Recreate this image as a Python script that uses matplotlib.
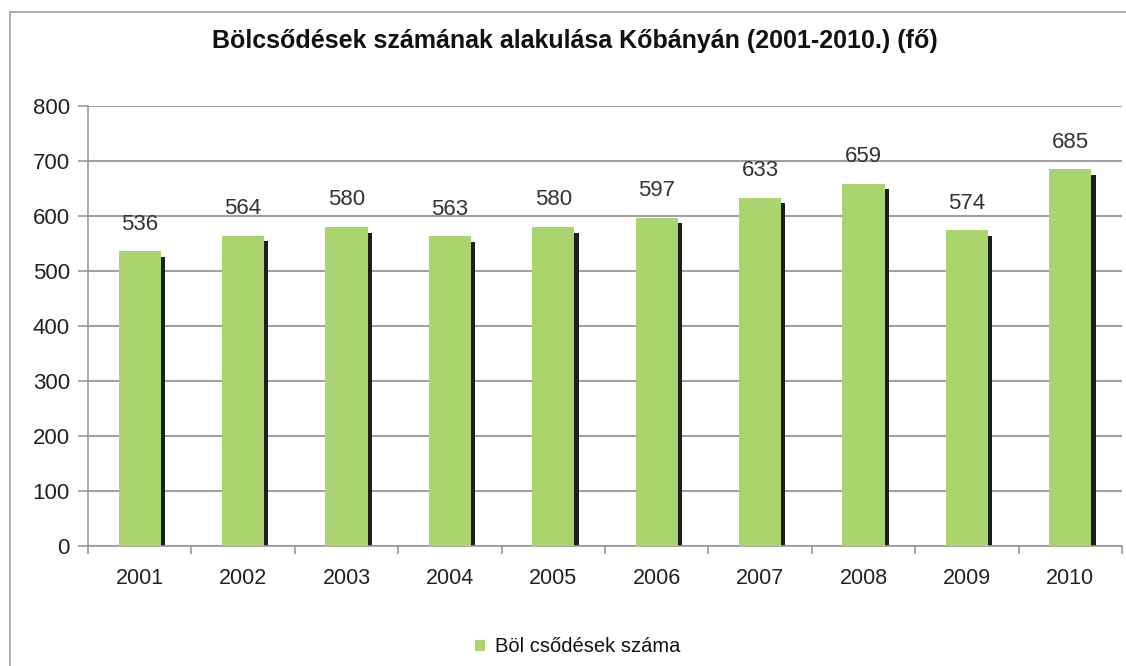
import matplotlib.pyplot as plt
import matplotlib.patches as mpatches
import numpy as np

# adatok
evek = ['2001', '2002', '2003', '2004', '2005', '2006', '2007', '2008', '2009', '2010']
bolcsodesek = [536, 564, 580, 563, 580, 597, 633, 659, 574, 685]

cim = 'Bölcsődések számának alakulása Kőbányán (2001-2010.) (fő)'
jelmagyarazat = 'Böl csődések száma'

plt.rcParams['font.family'] = ['Liberation Sans', 'DejaVu Sans']

fig = plt.figure(figsize=(11.26, 6.66), dpi=100)
ax = fig.add_axes([88/1126, 1 - 546/666, (1122 - 88)/1126, (546 - 106)/666])

x = np.arange(len(evek))
szel = 0.41

# arnyek a jobb oldalon
arnyek = [v - 10 for v in bolcsodesek]
ax.bar(x + szel/2 + 0.02, arnyek, width=0.04, color='#1e1e1e', zorder=2)
oszlopok = ax.bar(x, bolcsodesek, width=szel, color='#a9d46e', zorder=3,
                  label=jelmagyarazat)

for xi, v in zip(x, bolcsodesek):
    ax.annotate(str(v), (xi, v), xytext=(0, 19.5), textcoords='offset points',
                ha='center', va='center', fontsize=16, color='#333333')

ax.set_xlim(-0.5, len(evek) - 0.5)
ax.set_ylim(0, 800)
ax.set_yticks(range(0, 801, 100))
ax.set_xticks(x)
ax.set_xticklabels(evek)
ax.set_xticks(np.arange(-0.5, len(evek), 1), minor=True)
ax.tick_params(axis='x', which='major', length=0, pad=16, labelsize=15.5, labelcolor='#222222')
ax.tick_params(axis='x', which='minor', length=6, color='#999999', width=1.2)
ax.tick_params(axis='y', length=7, color='#999999', width=1.2, pad=6,
               labelsize=16, labelcolor='#222222')

ax.yaxis.grid(True, color='#a0a0a0', linewidth=1.5, zorder=0)
ax.set_axisbelow(True)
for s in ['top', 'right']:
    ax.spines[s].set_visible(False)
ax.spines['left'].set_color('#999999')
ax.spines['bottom'].set_color('#999999')
ax.spines['left'].set_linewidth(1.2)
ax.spines['bottom'].set_linewidth(1.2)

fig.text(575/1126, 1 - 41/666, cim, ha='center', va='center', fontsize=18,
         fontweight='bold', color='#111111')

# keret
fig.patches.append(mpatches.Rectangle((10/1126, -0.1), 1.2, 1 - 12/666 + 0.1,
                                      transform=fig.transFigure, fill=False,
                                      edgecolor='#b0b0b0', linewidth=1.5))

leg = fig.legend(handles=[oszlopok], loc='center', bbox_to_anchor=(578/1126, 1 - 647/666),
                 frameon=False, fontsize=14.5, handlelength=0.5, handleheight=0.5,
                 handletextpad=0.5)
for t in leg.get_texts():
    t.set_color('#111111')

fig.savefig('out.png', dpi=100)
